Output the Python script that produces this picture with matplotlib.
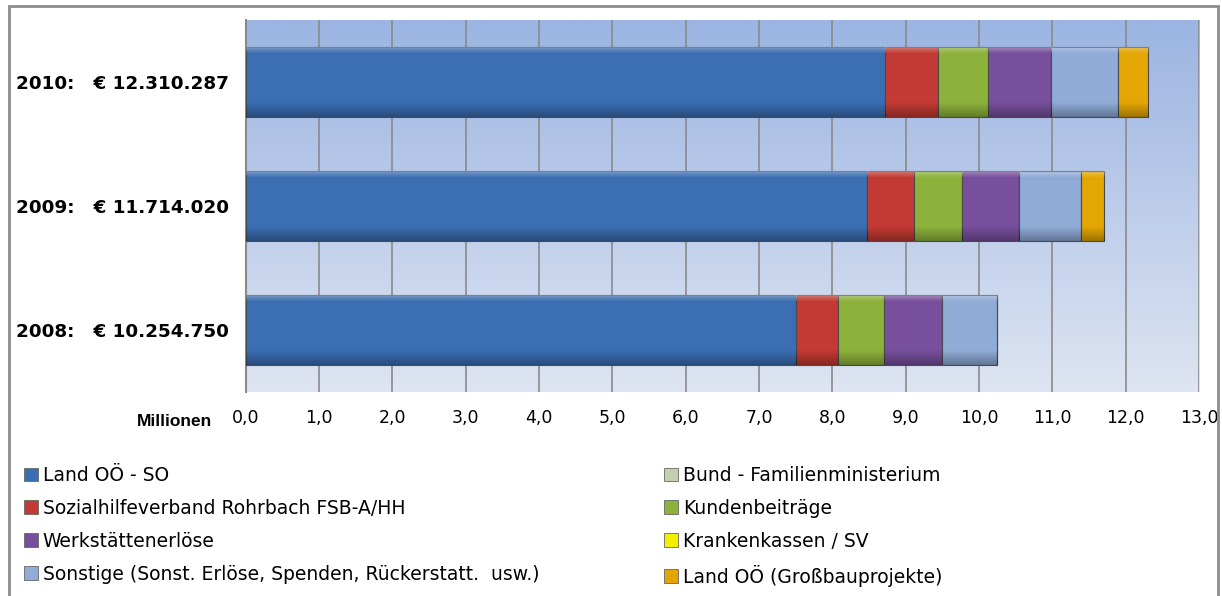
import matplotlib
matplotlib.use("Agg")
import matplotlib.pyplot as plt
import numpy as np
from matplotlib.patches import Rectangle, Patch

years = ["2008:   € 10.254.750", "2009:   € 11.714.020", "2010:   € 12.310.287"]
series_names = ["Land OÖ - SO", "Bund - Familienministerium",
                "Sozialhilfeverband Rohrbach FSB-A/HH", "Kundenbeiträge",
                "Werkstättenerlöse", "Krankenkassen / SV",
                "Sonstige (Sonst. Erlöse, Spenden, Rückerstatt.  usw.)",
                "Land OÖ (Großbauprojekte)"]
land_so = [7.51, 8.48, 8.72]
bund = [0.0, 0.0, 0.0]
sozial = [0.57, 0.63, 0.72]
kunden = [0.62, 0.66, 0.68]
werk = [0.79, 0.78, 0.86]
kranken = [0.0, 0.0, 0.0]
sonstige = [0.76, 0.84, 0.91]
gross = [0.0, 0.32, 0.41]
values = [land_so, bund, sozial, kunden, werk, kranken, sonstige, gross]
colors = ["#3b6eb2", "#c4cfae", "#c23a33", "#8db23c", "#774f9c", "#f2f000",
          "#8fabd6", "#e3a605"]
xticks = np.arange(0, 14, 1)
xticklabels = [f"{v:.1f}".replace(".", ",") for v in xticks]

W, H = 1222, 596
fig = plt.figure(figsize=(W / 100, H / 100), dpi=100)
fig.patch.set_facecolor("white")

ax = fig.add_axes([245.5 / W, 1 - 392 / H, (1199 - 245.5) / W, (392 - 20) / H])
ax.set_xlim(0, 13)
ax.set_ylim(-0.5, 2.5)

# background gradient
grad = np.linspace(0, 1, 256).reshape(-1, 1)
top = np.array([155, 180, 226]) / 255
bot = np.array([222, 229, 242]) / 255
img = top[None, None, :] * (1 - grad[:, :, None]) + bot[None, None, :] * grad[:, :, None]
ax.imshow(img, extent=[0, 13, -0.5, 2.5], aspect="auto", zorder=0, origin="upper")

for x in xticks[1:]:
    ax.axvline(x, color="#8a8a8a", linewidth=1.2, zorder=1)

# shading overlay for a bevelled look
n = 64
prof = np.zeros((n, 1, 4))
t = np.linspace(0, 1, n)
hi = t < 0.1
prof[hi, 0, :3] = 1.0
prof[hi, 0, 3] = 0.35 * (1 - t[hi] / 0.1)
lo = t > 0.8
prof[lo, 0, :3] = 0.0
prof[lo, 0, 3] = 0.3 * (t[lo] - 0.8) / 0.2

y = np.arange(len(years))
left = np.zeros(len(years))
handles = []
for name, vals, c in zip(series_names, values, colors):
    vals = np.array(vals)
    bars = ax.barh(y, vals, left=left, height=0.57, color=c, edgecolor="#4a4a4a",
                   linewidth=0.8, zorder=3)
    for b in bars:
        if b.get_width() > 0:
            x0, y0 = b.get_x(), b.get_y()
            im = ax.imshow(prof, extent=[x0, x0 + b.get_width(), y0, y0 + b.get_height()],
                           aspect="auto", origin="upper", zorder=3.5, interpolation="bilinear")
            im.set_clip_path(b)
    left += vals
    handles.append(Patch(facecolor=c, edgecolor="#666666", linewidth=0.6, label=name))

ax.set_xlim(0, 13)
ax.set_ylim(-0.5, 2.5)
ax.set_yticks(y)
ax.set_yticklabels(years, fontsize=13.2, fontweight="bold", family="DejaVu Sans")
ax.set_xticks(xticks)
ax.set_xticklabels(xticklabels, fontsize=12.5)
ax.tick_params(axis="y", length=0, pad=12)
ax.tick_params(axis="x", length=0, pad=12)
for s in ["top", "right", "bottom"]:
    ax.spines[s].set_visible(False)
ax.spines["left"].set_color("#8a8a8a")
ax.spines["left"].set_linewidth(1.5)

fig.text(212 / W, 1 - 421 / H, "Millionen", fontsize=12.5, fontweight="bold",
         family="Liberation Sans", ha="right", va="center")

# legend: two columns, row-major order like the original
leg_kw = dict(loc="upper left", frameon=False, fontsize=13.5, handlelength=0.75,
              handleheight=0.75, handletextpad=0.25, labelspacing=0.74,
              borderaxespad=0, borderpad=0)
col1 = [0, 2, 4, 6]
col2 = [1, 3, 5, 7]
fig.legend([handles[i] for i in col1], [series_names[i] for i in col1],
           bbox_to_anchor=(24 / W, 1 - 466 / H), **leg_kw)
fig.legend([handles[i] for i in col2], [series_names[i] for i in col2],
           bbox_to_anchor=(664 / W, 1 - 466 / H), **leg_kw)

# outer frame
fig.patches.append(Rectangle((9 / W, -0.01), (1218 - 9) / W, 1 - 6 / H + 0.01,
                             transform=fig.transFigure, fill=False,
                             edgecolor="#8c8c8c", linewidth=2, zorder=10))

fig.savefig("out.png", dpi=100)
